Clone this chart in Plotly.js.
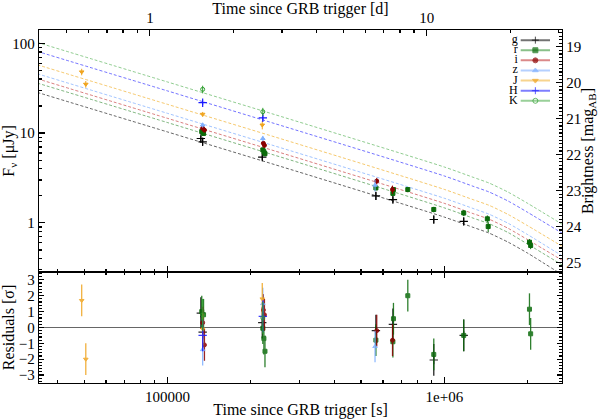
<!DOCTYPE html>
<html>
<head>
<meta charset="utf-8">
<script src="https://cdn.plot.ly/plotly-3.0.1.min.js"></script>
<style>html,body{margin:0;padding:0;background:#fff;}</style>
</head>
<body>
<div id="chart" style="width:598px;height:419px;"></div>
<script>
// bands, top to bottom in the legend
var bands = ['g', 'r', 'i', 'z', 'J', 'H', 'K'];

// photometry: time [s], flux [uJy], flux error
var gTime = [132000, 134000, 220000, 566000, 652000, 916000, 1175000];
var gFlux = [8.7, 8.0, 5.4, 2.0, 1.82, 1.09, 1.04];
var gErr  = [0.6, 0.6, 0.4, 0.2, 0.15, 0.1, 0.1];
var gRes  = [0.9, -0.3, 0.3, -0.2, 0.2, -2.05, -0.5];

var rTime = [133000, 135000, 221000, 223000, 225000, 566000, 652000, 655000, 738000, 916000, 1175000, 1430000, 1440000, 2030000, 2050000];
var rFlux = [10.4, 9.9, 6.5, 6.2, 5.9, 2.45, 2.13, 2.35, 2.35, 1.41, 1.29, 1.11, 0.91, 0.61, 0.56];
var rErr  = [0.5, 0.5, 0.35, 0.35, 0.35, 0.15, 0.13, 0.15, 0.15, 0.1, 0.1, 0.1, 0.12, 0.05, 0.05];
var rResTime = [133000, 135000, 221000, 223000, 225000, 566000, 652000, 655000, 738000, 916000, 1175000, 2030000, 2050000];
var rRes  = [1.0, 0.8, -0.05, -0.7, -1.5, -0.8, -0.9, 0.55, 2.0, -1.7, -0.5, 1.15, -0.4];

var iTime = [134000, 136000, 222000, 224000, 570000, 650000];
var iFlux = [11.3, 10.8, 7.7, 7.3, 2.92, 2.35];
var iErr  = [0.6, 0.6, 0.4, 0.4, 0.25, 0.25];
var iRes  = [0.3, -1.1, 1.1, 0.8, -0.2, -0.8];

var zTime = [134000, 221000, 562000];
var zFlux = [12.3, 8.7, 2.63];
var zErr  = [0.8, 0.6, 0.4];
var zRes  = [-1.4, 1.5, -1.2];

var JTime = [49000, 50700, 134000, 220000];
var JFlux = [48, 35, 16.2, 12.3];
var JErr  = [4, 3, 1.0, 1.3];
var JRes  = [1.7, -2.0, -0.1, 1.8];

var HTime = [134000, 221000];
var HFlux = [21.8, 14.8];
var HErr  = [1.2, 1.0];
var HRes  = [-0.5, 0.7];

var KTime = [134000, 221000];
var KFlux = [30.7, 17.3];
var KErr  = [3.0, 1.8];
var KRes  = [0.8, 0.6];

// afterglow model curves
var modelTime = [30000, 100000, 316000, 1000000, 1260000, 1450000, 1700000, 2000000, 2800000];
var gModel = [31.8, 10.3, 3.49, 1.16, 0.90, 0.77, 0.61, 0.46, 0.24];
var rModel = [40.4, 13.1, 4.44, 1.47, 1.14, 0.98, 0.78, 0.58, 0.31];
var iModel = [45.1, 14.6, 4.96, 1.65, 1.28, 1.10, 0.87, 0.65, 0.35];
var zModel = [51.3, 16.6, 5.64, 1.88, 1.46, 1.25, 0.99, 0.74, 0.39];
var JModel = [64.6, 20.9, 7.11, 2.36, 1.83, 1.57, 1.24, 0.93, 0.50];
var HModel = [91.0, 29.5, 10.0, 3.33, 2.58, 2.21, 1.75, 1.31, 0.70];
var KModel = [114.6, 37.1, 12.6, 4.19, 3.25, 2.78, 2.20, 1.65, 0.88];

var series = {
  g: {t: gTime, f: gFlux, e: gErr, rt: gTime, rv: gRes, m: gModel},
  r: {t: rTime, f: rFlux, e: rErr, rt: rResTime, rv: rRes, m: rModel},
  i: {t: iTime, f: iFlux, e: iErr, rt: iTime, rv: iRes, m: iModel},
  z: {t: zTime, f: zFlux, e: zErr, rt: zTime, rv: zRes, m: zModel},
  J: {t: JTime, f: JFlux, e: JErr, rt: JTime, rv: JRes, m: JModel},
  H: {t: HTime, f: HFlux, e: HErr, rt: HTime, rv: HRes, m: HModel},
  K: {t: KTime, f: KFlux, e: KErr, rt: KTime, rv: KRes, m: KModel}
};

var markColor = {g: '#000000', r: '#0b6b0b', i: '#8b0000', z: '#7fb0ff', J: '#f0a41e', H: '#1a1aff', K: '#2e9e2e'};
var lineColor = {g: 'rgba(0,0,0,0.6)', r: 'rgba(20,120,20,0.55)', i: 'rgba(190,40,40,0.6)', z: 'rgba(120,170,255,0.7)',
                 J: 'rgba(240,170,30,0.65)', H: 'rgba(40,40,255,0.65)', K: 'rgba(70,170,70,0.6)'};
var legColor  = {g: 'rgba(0,0,0,0.55)', r: 'rgba(20,130,20,0.5)', i: 'rgba(190,40,40,0.55)', z: 'rgba(120,170,255,0.55)',
                 J: 'rgba(240,170,30,0.5)', H: 'rgba(40,40,255,0.6)', K: 'rgba(70,170,70,0.55)'};
var symbol = {g: 'cross-thin', r: 'square', i: 'circle', z: 'triangle-up', J: 'triangle-down', H: 'cross-thin', K: 'circle-open'};

var traces = [];

bands.forEach(function(b){
  var s = series[b];
  traces.push({
    x: modelTime, y: s.m, xaxis: 'x2', yaxis: 'y2', mode: 'lines',
    line: {color: lineColor[b], width: 1, dash: '3px,2px', shape: 'spline', smoothing: 0.6},
    hoverinfo: 'skip', showlegend: false
  });
});

bands.forEach(function(b){
  var s = series[b];
  var mk = {symbol: symbol[b], size: (b == 'g' || b == 'H') ? 6 : 4, color: markColor[b],
            line: {color: markColor[b], width: (b == 'g' || b == 'H') ? 1.2 : 1}};
  traces.push({
    x: s.t, y: s.f, xaxis: 'x2', yaxis: 'y2', mode: 'markers', marker: mk,
    error_y: {type: 'data', array: s.e, color: markColor[b], thickness: 1, width: 0},
    showlegend: false
  });
  traces.push({
    x: s.rt, y: s.rv, xaxis: 'x', yaxis: 'y', mode: 'markers', marker: mk,
    opacity: 0.85,
    error_y: {type: 'constant', value: 1, color: markColor[b], thickness: 1.3, width: 0},
    showlegend: false
  });
});

// invisible companion so the day axis and the magnitude axis get drawn
traces.push({
  x: modelTime.map(function(t){ return t / 86400; }),
  y: KModel.map(function(f){ return 23.9 - 2.5 * Math.log10(f); }),
  xaxis: 'x3', yaxis: 'y3', mode: 'lines', line: {width: 0}, opacity: 0,
  hoverinfo: 'skip', showlegend: false
});

// hand made legend (label left of the line) on its own small hidden axes
bands.forEach(function(b, k){
  traces.push({
    x: [0, 0.5, 1], y: [k, k, k], xaxis: 'x4', yaxis: 'y4', mode: 'lines+markers',
    line: {color: legColor[b], width: 2},
    marker: {symbol: symbol[b], size: [0, 5, 0], color: markColor[b], line: {color: markColor[b], width: 1}},
    hoverinfo: 'skip', showlegend: false
  });
});
traces.push({
  x: bands.map(function(){ return -0.1; }), y: bands.map(function(b, k){ return k; }),
  xaxis: 'x4', yaxis: 'y4', mode: 'text', text: bands, textposition: 'middle left',
  textfont: {size: 12, color: '#000', family: 'Liberation Serif, serif'}, hoverinfo: 'skip', showlegend: false
});

function logMinors(lo, hi){
  var v = [];
  for (var d = lo; d <= hi; d++)
    for (var m = 2; m <= 9; m++) v.push(m * Math.pow(10, d));
  return v;
}

var black = '#000';
var split = 0.3147;

var layout = {
  width: 598, height: 419,
  margin: {l: 39, r: 36, t: 30, b: 36},
  paper_bgcolor: '#fff', plot_bgcolor: 'rgba(0,0,0,0)',
  font: {family: 'Liberation Serif, DejaVu Serif, serif', size: 15, color: black},
  showlegend: false,
  xaxis: {
    type: 'log', range: [4.536, 6.425], domain: [0, 1], anchor: 'y',
    tickmode: 'array', tickvals: [1e5, 1e6], ticktext: ['100000', '1e+06'],
    ticks: 'inside', ticklen: 6, tickwidth: 1.2, tickcolor: black,
    minor: {tickmode: 'array', tickvals: logMinors(4, 6), ticks: 'inside', ticklen: 3, tickcolor: black},
    showline: true, linecolor: black, linewidth: 1.3, mirror: 'ticks', showgrid: false, zeroline: false,
    title: {text: 'Time since GRB trigger [s]', standoff: 2, font: {size: 16}}
  },
  yaxis: {
    range: [-3.5, 3.5], domain: [0, split], anchor: 'x',
    tickmode: 'array', tickvals: [-3, -2, -1, 0, 1, 2, 3],
    ticks: 'inside', ticklen: 5, tickwidth: 1.2, tickcolor: black,
    minor: {dtick: 0.2, tick0: 0, ticks: 'inside', ticklen: 3, tickcolor: black},
    showline: true, linecolor: black, linewidth: 1.3, mirror: 'ticks', showgrid: false,
    zeroline: true, zerolinecolor: '#666', zerolinewidth: 1.5,
    title: {text: 'Residuals [σ]', standoff: 4, font: {size: 16}}
  },
  xaxis2: {
    type: 'log', range: [4.536, 6.425], domain: [0, 1], anchor: 'y2', matches: 'x',
    showticklabels: false, tickmode: 'array', tickvals: [1e5, 1e6],
    ticks: 'inside', ticklen: 6, tickwidth: 1.2, tickcolor: black,
    minor: {tickmode: 'array', tickvals: logMinors(4, 6), ticks: 'inside', ticklen: 3, tickcolor: black},
    showline: true, linecolor: black, linewidth: 1.3, showgrid: false, zeroline: false
  },
  yaxis2: {
    type: 'log', range: [-0.546, 2.148], domain: [split, 1], anchor: 'x2',
    tickmode: 'array', tickvals: [1, 10, 100], ticktext: ['1', '10', '100'],
    ticks: 'inside', ticklen: 6, tickwidth: 1.2, tickcolor: black,
    minor: {tickmode: 'array', tickvals: logMinors(-1, 2), ticks: 'inside', ticklen: 3, tickcolor: black},
    showline: true, linecolor: black, linewidth: 1.3, showgrid: false, zeroline: false,
    title: {text: 'F<sub>ν</sub> [μJy]', standoff: 4, font: {size: 16}}
  },
  xaxis3: {
    type: 'log', range: [-0.4005, 1.4885], overlaying: 'x2', side: 'top', anchor: 'y2',
    tickmode: 'array', tickvals: [1, 10], ticktext: ['1', '10'],
    ticks: 'inside', ticklen: 6, tickwidth: 1.2, tickcolor: black,
    minor: {tickmode: 'array', tickvals: logMinors(-1, 1), ticks: 'inside', ticklen: 3, tickcolor: black},
    showline: true, linecolor: black, linewidth: 1.3, showgrid: false, zeroline: false,
    title: {text: 'Time since GRB trigger [d]', standoff: 2, font: {size: 16}}
  },
  yaxis3: {
    range: [25.265, 18.53], overlaying: 'y2', side: 'right', anchor: 'x3',
    tickmode: 'linear', tick0: 19, dtick: 1,
    ticks: 'inside', ticklen: 6, tickwidth: 1.2, tickcolor: black,
    minor: {dtick: 0.1, tick0: 19, ticks: 'inside', ticklen: 3, tickcolor: black},
    showline: true, linecolor: black, linewidth: 1.3, showgrid: false, zeroline: false,
    title: {text: 'Brightness [mag<sub>AB</sub>]', standoff: 4, font: {size: 16}}
  },
  xaxis4: {domain: [0.8874, 0.9771], range: [-0.6, 1], anchor: 'y4', visible: false, fixedrange: true},
  yaxis4: {domain: [0.7851, 0.9856], range: [6.5, -0.5], anchor: 'x4', visible: false, fixedrange: true}
};

Plotly.newPlot('chart', traces, layout, {displayModeBar: false, staticPlot: true});
</script>
</body>
</html>
